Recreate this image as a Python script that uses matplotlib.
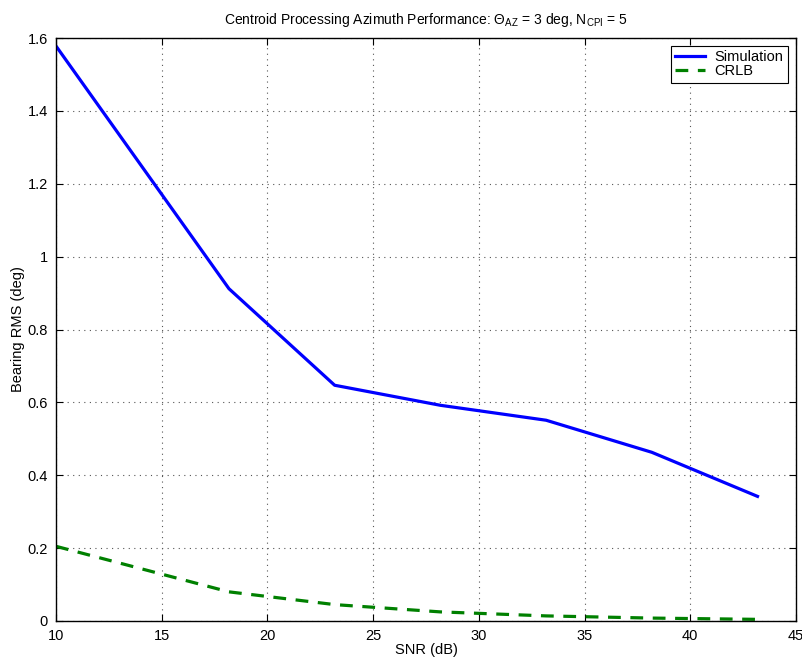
import matplotlib
matplotlib.use("Agg")
import matplotlib.pyplot as plt

snr = [10.0, 18.18, 23.18, 28.18, 33.18, 38.18, 43.18]
simulation = [1.578, 0.912, 0.647, 0.592, 0.551, 0.463, 0.342]
crlb = [0.205, 0.080, 0.045, 0.025, 0.014, 0.008, 0.0045]
xticks = [10, 15, 20, 25, 30, 35, 40, 45]
yticks = [0, 0.2, 0.4, 0.6, 0.8, 1.0, 1.2, 1.4, 1.6]
yticklabels = ["0", "0.2", "0.4", "0.6", "0.8", "1", "1.2", "1.4", "1.6"]

plt.rcParams['font.family'] = ['Liberation Sans', 'DejaVu Sans']
plt.rcParams['mathtext.fontset'] = 'custom'
plt.rcParams['mathtext.rm'] = 'Liberation Sans'
plt.rcParams['mathtext.it'] = 'Liberation Sans'

fig = plt.figure(figsize=(8.03, 6.68), dpi=100)
ax = fig.add_axes([56/803, 47/668, 740/803, 583/668])

ax.plot(snr, simulation, color=(0, 0, 1), lw=2.3, label='Simulation')
ax.plot(snr, crlb, color=(0, 0.5, 0), lw=2.3, ls=(0, (4, 3)), label='CRLB')

ax.set_xlim(10, 45)
ax.set_ylim(0, 1.6)
ax.set_xticks(xticks)
ax.set_yticks(yticks)
ax.set_yticklabels(yticklabels)
ax.tick_params(direction='in', top=True, right=True, labelsize=10.5, length=5, width=0.8)
ax.tick_params(axis='x', pad=6)
ax.tick_params(axis='y', pad=6)
ax.grid(True, color='#555555', ls=(0, (1, 4)), lw=0.8)
for s in ax.spines.values():
    s.set_linewidth(1.0)

ax.set_xlabel('SNR (dB)', fontsize=10.5, labelpad=0)
ax.set_ylabel('Bearing RMS (deg)', fontsize=10.5, labelpad=2)
ax.set_title(r'Centroid Processing Azimuth Performance: $\Theta_{AZ}$ = 3 deg, N$_{CPI}$ = 5',
             fontsize=10, pad=10)

leg = ax.legend(loc='upper right', fancybox=False, edgecolor='black', framealpha=1,
                fontsize=10.5, borderaxespad=0.55, handlelength=2.0, handletextpad=0.7,
                borderpad=0.3, labelspacing=0.0)
leg.get_frame().set_linewidth(0.8)

fig.savefig('out.png', dpi=100)
